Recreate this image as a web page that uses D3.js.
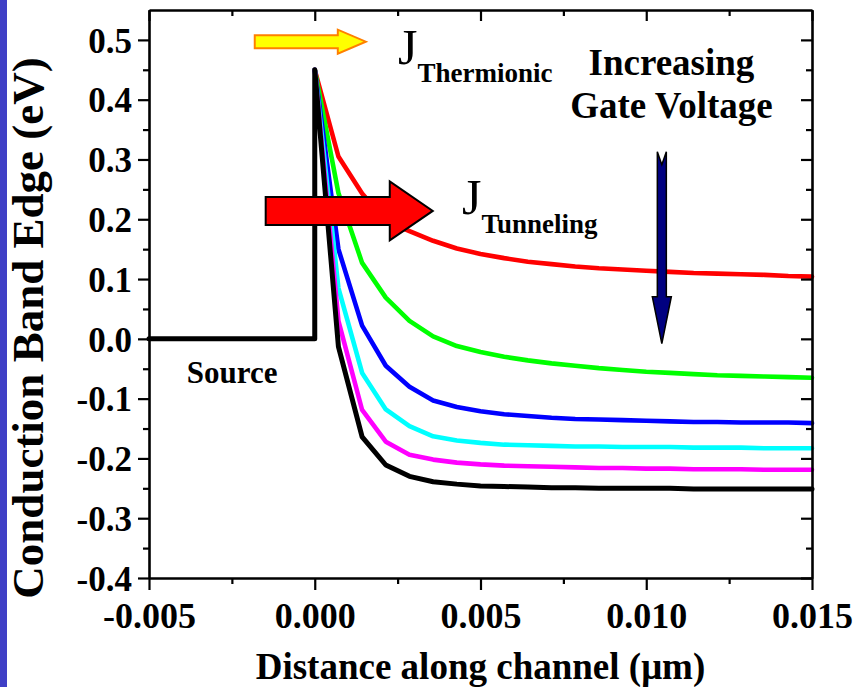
<!DOCTYPE html>
<html>
<head>
<meta charset="utf-8">
<script src="https://cdn.jsdelivr.net/npm/d3@7"></script>
<style>
  html, body { margin: 0; padding: 0; background: #ffffff; }
  svg { display: block; }
  text { font-family: "Liberation Serif", "Times New Roman", serif; fill: #000; }
</style>
</head>
<body>
<svg id="chart" width="859" height="687"></svg>
<script>
// Distance along the channel (µm) at which the band edge is sampled
const channelX = [0, 0.000714, 0.001429, 0.002143, 0.002857, 0.003571, 0.004286, 0.005,
  0.005714, 0.006429, 0.007143, 0.007857, 0.008571, 0.009286, 0.01, 0.010714,
  0.011429, 0.012143, 0.012857, 0.013571, 0.014286, 0.015];

// Conduction band edge (eV) for each gate voltage, lowest to highest
const bandRed = [0.45, 0.305, 0.243, 0.197, 0.180, 0.164, 0.151, 0.142, 0.135, 0.129,
  0.125, 0.121, 0.118, 0.116, 0.114, 0.112, 0.110, 0.109, 0.108, 0.107, 0.105, 0.104];
const bandGreen = [0.45, 0.244, 0.127, 0.069, 0.030, 0.004, -0.012, -0.022, -0.030, -0.036,
  -0.041, -0.045, -0.049, -0.052, -0.055, -0.057, -0.059, -0.061, -0.062, -0.063, -0.064, -0.065];
const bandBlue = [0.45, 0.150, 0.022, -0.045, -0.080, -0.103, -0.114, -0.121, -0.126, -0.129,
  -0.132, -0.134, -0.135, -0.136, -0.137, -0.138, -0.139, -0.139, -0.140, -0.140, -0.140, -0.141];
const bandCyan = [0.45, 0.085, -0.057, -0.118, -0.146, -0.163, -0.170, -0.174, -0.177, -0.178,
  -0.179, -0.180, -0.180, -0.181, -0.181, -0.181, -0.182, -0.182, -0.182, -0.183, -0.183, -0.183];
const bandMagenta = [0.45, 0.030, -0.119, -0.172, -0.194, -0.202, -0.207, -0.210, -0.212, -0.213,
  -0.214, -0.215, -0.216, -0.216, -0.217, -0.217, -0.218, -0.218, -0.218, -0.219, -0.219, -0.219];
const bandBlack = [0.45, -0.013, -0.164, -0.211, -0.230, -0.239, -0.243, -0.246, -0.247, -0.248,
  -0.249, -0.249, -0.250, -0.250, -0.250, -0.250, -0.251, -0.251, -0.251, -0.251, -0.251, -0.251];

// Source region and barrier wall
const sourceX = [-0.005, 0, 0];
const sourceY = [0, 0, 0.45];

const seriesColors = ["#ff0000", "#00ff00", "#0000ff", "#00ffff", "#ff00ff", "#000000"];

// Axis ticks
const xTicks = [-0.005, 0.000, 0.005, 0.010, 0.015];
const xTickLabels = ["-0.005", "0.000", "0.005", "0.010", "0.015"];
const xMinorTicks = [-0.0025, 0.0025, 0.0075, 0.0125];
const yTicks = [0.5, 0.4, 0.3, 0.2, 0.1, 0.0, -0.1, -0.2, -0.3, -0.4];
const yTickLabels = ["0.5", "0.4", "0.3", "0.2", "0.1", "0.0", "-0.1", "-0.2", "-0.3", "-0.4"];
const yMinorTicks = [0.45, 0.35, 0.25, 0.15, 0.05, -0.05, -0.15, -0.25, -0.35];

const xTitle = "Distance along channel (\u03bcm)";
const yTitle = "Conduction Band Edge (eV)";

const SERIF = "Liberation Serif, Times New Roman, serif";
const svg = d3.select("#chart");
const W = 859, H = 687;
const plot = { left: 149, right: 812, top: 10, bottom: 578 };

svg.append("rect").attr("x", 0).attr("y", 0).attr("width", W).attr("height", H).attr("fill", "#ffffff");
svg.append("rect").attr("x", 0).attr("y", 0).attr("width", 7).attr("height", H).attr("fill", "#3f3fc6");

const x = d3.scaleLinear().domain([-0.005, 0.015]).range([plot.left, plot.right]);
const y = d3.scaleLinear().domain([-0.4, 0.55]).range([plot.bottom, plot.top]);

// ---- curves ----
const line = d3.line().x(d => x(d[0])).y(d => y(d[1]));
const bands = [bandRed, bandGreen, bandBlue, bandCyan, bandMagenta];
const gCurves = svg.append("g").attr("fill", "none").attr("stroke-linejoin", "round").attr("stroke-linecap", "round");
bands.forEach((vals, i) => {
  gCurves.append("path")
    .attr("d", line(channelX.map((cx, k) => [cx, vals[k]])))
    .attr("stroke", seriesColors[i])
    .attr("stroke-width", 4.6);
});
const blackPts = sourceX.map((sx, k) => [sx, sourceY[k]])
  .concat(channelX.map((cx, k) => [cx, bandBlack[k]]).slice(1));
gCurves.append("path")
  .attr("d", line(blackPts))
  .attr("stroke", seriesColors[5])
  .attr("stroke-width", 5);

// ---- axes ----
function styleAxis(g) {
  g.attr("font-family", SERIF);
  g.select(".domain").attr("stroke", "#000").attr("stroke-width", 2.6);
  g.selectAll(".tick line").attr("stroke", "#000").attr("stroke-width", 2.2);
}
function minorStyle(g) {
  g.select(".domain").remove();
  g.selectAll(".tick line").attr("stroke", "#000").attr("stroke-width", 2.2);
}
// bottom (outward)
const gBottom = svg.append("g").attr("transform", `translate(0,${plot.bottom})`)
  .call(d3.axisBottom(x).tickValues(xTicks).tickSize(12).tickSizeOuter(0)
    .tickFormat((d, i) => xTickLabels[i]));
gBottom.call(styleAxis);
gBottom.selectAll(".tick text").attr("font-size", 36).attr("font-weight", "bold").attr("dy", 0).attr("y", 50);
svg.append("g").attr("transform", `translate(0,${plot.bottom})`)
  .call(d3.axisBottom(x).tickValues(xMinorTicks).tickSize(6).tickFormat("")).call(minorStyle);

// top (inward)
const gTop = svg.append("g").attr("transform", `translate(0,${plot.top})`)
  .call(d3.axisBottom(x).tickValues(xTicks).tickSize(11).tickSizeOuter(0).tickFormat(""));
gTop.call(styleAxis);
svg.append("g").attr("transform", `translate(0,${plot.top})`)
  .call(d3.axisBottom(x).tickValues(xMinorTicks).tickSize(6).tickFormat("")).call(minorStyle);

// left (outward)
const gLeft = svg.append("g").attr("transform", `translate(${plot.left},0)`)
  .call(d3.axisLeft(y).tickValues(yTicks).tickSize(11).tickSizeOuter(0)
    .tickFormat((d, i) => yTickLabels[i]));
gLeft.call(styleAxis);
gLeft.selectAll(".tick text").attr("font-size", 35).attr("font-weight", "bold").attr("x", -17).attr("dy", "0.35em");
svg.append("g").attr("transform", `translate(${plot.left},0)`)
  .call(d3.axisLeft(y).tickValues(yMinorTicks).tickSize(6).tickFormat("")).call(minorStyle);

// right (inward)
const gRight = svg.append("g").attr("transform", `translate(${plot.right},0)`)
  .call(d3.axisLeft(y).tickValues(yTicks).tickSize(11).tickSizeOuter(0).tickFormat(""));
gRight.call(styleAxis);
svg.append("g").attr("transform", `translate(${plot.right},0)`)
  .call(d3.axisLeft(y).tickValues(yMinorTicks).tickSize(6).tickFormat("")).call(minorStyle);

// axis titles
svg.append("text")
  .attr("x", (plot.left + plot.right) / 2).attr("y", 679)
  .attr("text-anchor", "middle").attr("font-size", 37).attr("font-weight", "bold")
  .text(xTitle);
svg.append("text")
  .attr("transform", `translate(43,328) rotate(-90)`)
  .attr("text-anchor", "middle").attr("font-size", 45).attr("font-weight", "bold")
  .text(yTitle);

// ---- annotations ----
function hArrow(x0, x1, yc, shaftHalf, headHalf, headLen) {
  const px0 = x(x0), px1 = x(x1), py = y(yc), hb = px1 - headLen;
  return [[px0, py - shaftHalf], [hb, py - shaftHalf], [hb, py - headHalf], [px1, py],
          [hb, py + headHalf], [hb, py + shaftHalf], [px0, py + shaftHalf]];
}
function vArrow(xc, y0, y1, shaftHalf, headHalf, headLen, notch) {
  const px = x(xc), py0 = y(y0), py1 = y(y1), hb = py1 - headLen;
  return [[px - shaftHalf, py0], [px, py0 + notch], [px + shaftHalf, py0], [px + shaftHalf, hb],
          [px + headHalf, hb], [px, py1], [px - headHalf, hb], [px - shaftHalf, hb]];
}
const poly = pts => "M" + pts.map(p => p.join(",")).join("L") + "Z";

// thermionic current arrow
svg.append("path")
  .attr("d", poly(hArrow(-0.00181, 0.00154, 0.497, 6.5, 12, 28)))
  .attr("fill", "#ffff00").attr("stroke", "#ff8000").attr("stroke-width", 2).attr("stroke-linejoin", "miter");
// tunneling current arrow
svg.append("path")
  .attr("d", poly(hArrow(-0.00148, 0.00356, 0.214, 14, 29.5, 43)))
  .attr("fill", "#ff0000").attr("stroke", "#000").attr("stroke-width", 2).attr("stroke-linejoin", "miter");
// gate voltage arrow
svg.append("path")
  .attr("d", poly(vArrow(0.01047, 0.313, -0.008, 4.5, 9.5, 47, 13)))
  .attr("fill", "#000080").attr("stroke", "#000").attr("stroke-width", 1.5).attr("stroke-linejoin", "miter");

// J labels
const jTherm = svg.append("text").attr("x", x(0.00251)).attr("y", y(0.46)).attr("font-size", 50);
jTherm.append("tspan").text("J");
jTherm.append("tspan").attr("dy", 18).attr("font-size", 27).attr("font-weight", "bold").text("Thermionic");

const jTunnel = svg.append("text").attr("x", x(0.00444)).attr("y", y(0.209)).attr("font-size", 50);
jTunnel.append("tspan").text("J");
jTunnel.append("tspan").attr("dy", 19).attr("font-size", 27).attr("font-weight", "bold").text("Tunneling");

svg.append("text").attr("x", x(0.01076)).attr("y", y(0.441))
  .attr("text-anchor", "middle").attr("font-size", 37).attr("font-weight", "bold").text("Increasing");
svg.append("text").attr("x", x(0.01076)).attr("y", y(0.369))
  .attr("text-anchor", "middle").attr("font-size", 37).attr("font-weight", "bold").text("Gate Voltage");

svg.append("text").attr("x", x(-0.00386)).attr("y", y(-0.074))
  .attr("font-size", 31).attr("font-weight", "bold").text("Source");
</script>
</body>
</html>
